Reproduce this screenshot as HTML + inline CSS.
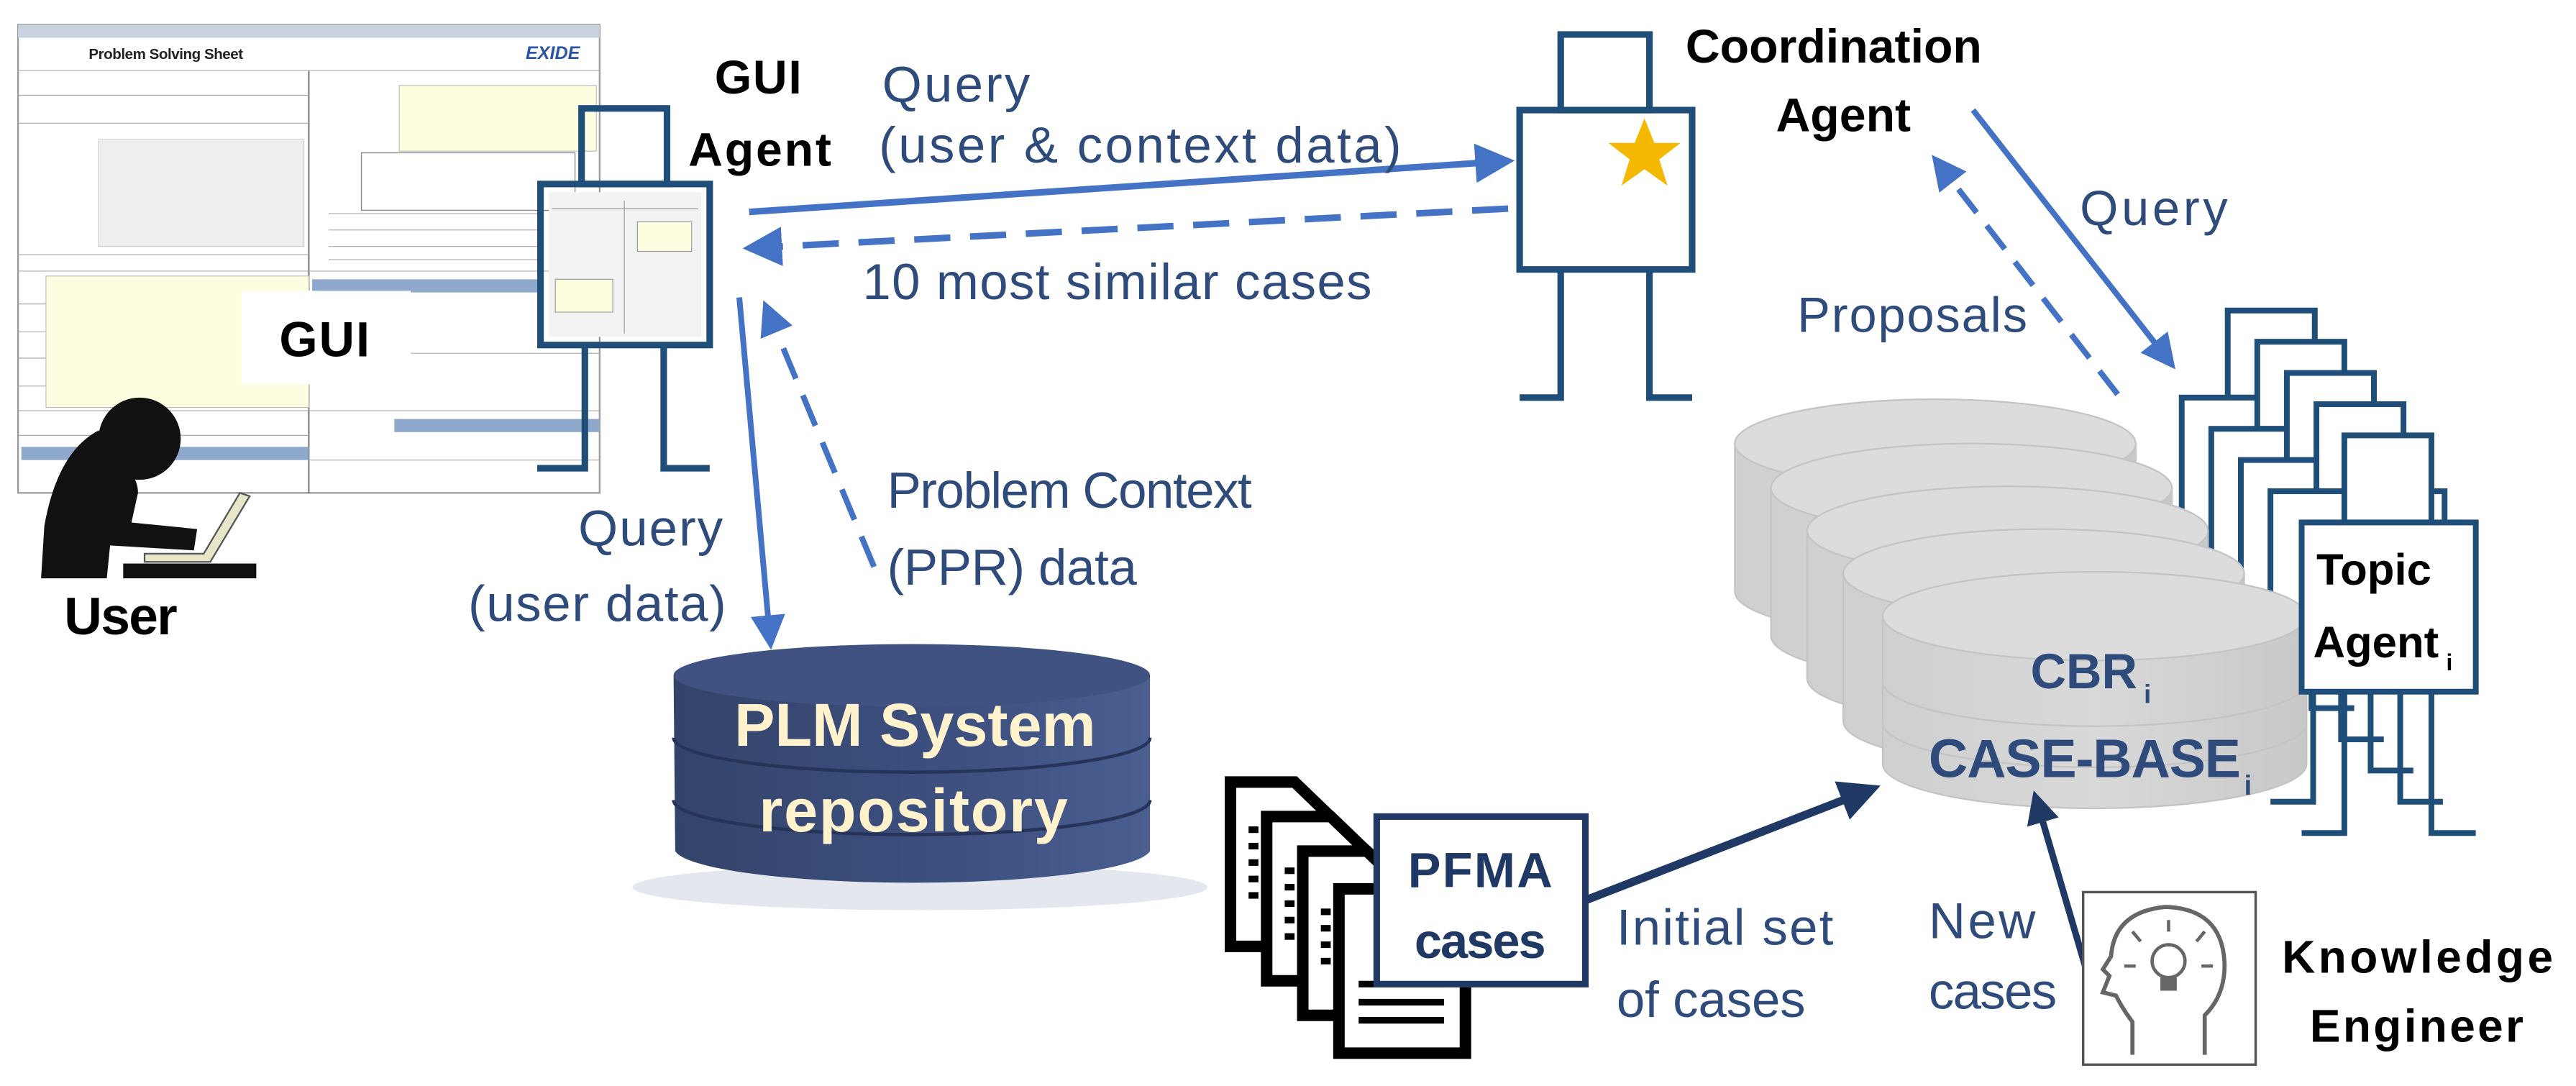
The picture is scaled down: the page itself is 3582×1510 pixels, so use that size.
<!DOCTYPE html>
<html><head><meta charset="utf-8"><style>
html,body{margin:0;padding:0;background:#fff;}
svg{display:block;}
text{font-family:"Liberation Sans","DejaVu Sans",sans-serif;}
</style></head><body>
<svg width="3582" height="1510" viewBox="0 0 1568 661" preserveAspectRatio="none" xmlns="http://www.w3.org/2000/svg">
<defs>
<marker id="ah" markerWidth="6" markerHeight="6" refX="5" refY="3" orient="auto" markerUnits="strokeWidth"><path d="M0,0 L6,3 L0,6 z" fill="#4472c4"/></marker>
<marker id="ahd" markerWidth="5" markerHeight="5" refX="4" refY="2.5" orient="auto" markerUnits="strokeWidth"><path d="M0,0 L5,2.5 L0,5 z" fill="#1f3864"/></marker>
<linearGradient id="plm" x1="0" x2="1"><stop offset="0" stop-color="#33446a"/><stop offset="0.6" stop-color="#3d5080"/><stop offset="1" stop-color="#4a5e90"/></linearGradient>
<linearGradient id="cbr" x1="0" x2="1"><stop offset="0" stop-color="#cfcfcf"/><stop offset="0.5" stop-color="#d9d9d9"/><stop offset="1" stop-color="#c8c8c8"/></linearGradient>
</defs>

<!-- GUI screenshot -->
<g>
<rect x="11" y="15" width="354" height="285" fill="#fff" stroke="#999" stroke-width="1"/>
<rect x="11" y="15" width="354" height="8" fill="#c9d3e0"/>
<text x="54" y="36" font-size="9" font-weight="bold" fill="#222" textLength="94">Problem Solving Sheet</text>
<text x="320" y="36" font-size="11" font-weight="bold" font-style="italic" fill="#2a55a0">EXIDE</text>
<line x1="188" y1="43" x2="188" y2="300" stroke="#666" stroke-width="0.8"/>
<g stroke="#aaa" stroke-width="0.5">
<line x1="11" y1="43" x2="365" y2="43"/><line x1="11" y1="58" x2="188" y2="58"/><line x1="11" y1="75" x2="188" y2="75"/>
<line x1="11" y1="155" x2="188" y2="155"/><line x1="11" y1="165" x2="188" y2="165"/>
<line x1="188" y1="165" x2="365" y2="165"/><line x1="188" y1="215" x2="365" y2="215"/><line x1="188" y1="250" x2="365" y2="250"/><line x1="188" y1="280" x2="365" y2="280"/>
<line x1="11" y1="250" x2="188" y2="250"/><line x1="11" y1="265" x2="188" y2="265"/>
<line x1="11" y1="185" x2="188" y2="185"/><line x1="11" y1="202" x2="188" y2="202"/><line x1="11" y1="218" x2="188" y2="218"/><line x1="11" y1="235" x2="188" y2="235"/>
<line x1="200" y1="130" x2="330" y2="130"/><line x1="200" y1="140" x2="330" y2="140"/><line x1="200" y1="150" x2="330" y2="150"/><line x1="200" y1="158" x2="330" y2="158"/>
</g>
<rect x="28" y="168" width="160" height="80" fill="#fdfde0" stroke="#bbb" stroke-width="0.5"/>
<rect x="243" y="52" width="120" height="40" fill="#fdfde0" stroke="#bbb" stroke-width="0.5"/>
<rect x="190" y="170" width="140" height="8" fill="#8fa9cc"/>
<rect x="240" y="255" width="125" height="8" fill="#8fa9cc"/>
<rect x="13" y="272" width="175" height="8" fill="#8fa9cc"/>
<rect x="60" y="85" width="125" height="65" fill="#eee" stroke="#ccc" stroke-width="0.5"/>
<rect x="220" y="93" width="130" height="35" fill="#fff" stroke="#888" stroke-width="0.6"/>
<rect x="147" y="177" width="103" height="57" fill="#fff"/>
<text x="170" y="217" font-size="30" font-weight="bold" fill="#000" textLength="55">GUI</text>
</g>

<!-- User -->
<g fill="#111">
<circle cx="85" cy="267" r="25"/>
<path d="M60,262 Q35,275 27,320 L25,352 L65,352 L67,332 L118,335 L120,322 L80,318 L84,300 Q84,288 70,280 z"/>
<rect x="75" y="343" width="81" height="9"/>
</g>
<path d="M88,342 L128,342 L152,302 L146,300 L124,337 L88,337 z" fill="#e8e6c8" stroke="#555" stroke-width="1"/>
<text x="39" y="386" font-size="32" font-weight="bold" fill="#000" textLength="69">User</text>

<!-- GUI Agent -->
<g fill="none" stroke="#1f4e79" stroke-width="4">
<rect x="354" y="66" width="52" height="46"/>
<rect x="329" y="112" width="103" height="98"/>
<polyline points="356,210 356,285 327,285"/>
<polyline points="404,210 404,285 432,285"/>
</g>
<rect x="334" y="117" width="93" height="88" fill="#f3f3f3"/>
<g stroke="#999" stroke-width="0.5" fill="none"><line x1="336" y1="127" x2="425" y2="127"/><line x1="380" y1="122" x2="380" y2="203"/><rect x="388" y="135" width="33" height="18" fill="#fdfde0"/><rect x="338" y="170" width="35" height="20" fill="#fdfde0"/></g>
<text x="435" y="57" font-size="29" font-weight="bold" fill="#000" textLength="53">GUI</text>
<text x="419" y="101" font-size="29" font-weight="bold" fill="#000" textLength="87">Agent</text>

<!-- Query / 10 most similar -->
<line x1="456" y1="129" x2="918" y2="98" stroke="#4472c4" stroke-width="4" marker-end="url(#ah)"/>
<line x1="918" y1="127" x2="456" y2="151" stroke="#4472c4" stroke-width="4" stroke-dasharray="22,12" marker-end="url(#ah)"/>
<text x="537" y="62" font-size="31" fill="#2f4b7c" textLength="90">Query</text>
<text x="535" y="99" font-size="31" fill="#2f4b7c" textLength="318">(user &amp; context data)</text>
<text x="525" y="182" font-size="31" fill="#2f4b7c" textLength="310">10 most similar cases</text>

<!-- Coordination Agent -->
<g fill="none" stroke="#1f4e79" stroke-width="4">
<rect x="950" y="21" width="54" height="46"/>
<rect x="925" y="67" width="105" height="97"/>
<polyline points="950,164 950,242 925,242"/>
<polyline points="1004,164 1004,242 1030,242"/>
</g>
<polygon points="1001,72 1007,87 1023,87 1010,97 1015,113 1001,103 987,113 992,97 979,87 995,87" fill="#f5b800"/>
<text x="1026" y="38" font-size="29" font-weight="bold" fill="#000">Coordination</text>
<text x="1081" y="80" font-size="29" font-weight="bold" fill="#000">Agent</text>

<!-- Query / Proposals to topic -->
<line x1="1201" y1="67" x2="1322" y2="222" stroke="#4472c4" stroke-width="3.5" marker-end="url(#ah)"/>
<line x1="1289" y1="240" x2="1178" y2="97" stroke="#4472c4" stroke-width="3.5" stroke-dasharray="18,10" marker-end="url(#ah)"/>
<text x="1266" y="137" font-size="30" fill="#2f4b7c" textLength="90">Query</text>
<text x="1094" y="202" font-size="30" fill="#2f4b7c" textLength="140">Proposals</text>

<!-- Topic agents stack (back 4) -->
<g fill="#fff" stroke="#1f4e79" stroke-width="3.5">
<g><polyline fill="none" points="1354,345 1354,431 1328,431"/><polyline fill="none" points="1407,345 1407,431 1433,431"/><rect x="1356" y="189" width="53" height="53"/><rect x="1328" y="242" width="106" height="103"/></g>
<g><polyline fill="none" points="1372,364 1372,450 1346,450"/><polyline fill="none" points="1425,364 1425,450 1451,450"/><rect x="1374" y="208" width="53" height="53"/><rect x="1346" y="261" width="106" height="103"/></g>
<g><polyline fill="none" points="1390,383 1390,469 1364,469"/><polyline fill="none" points="1443,383 1443,469 1469,469"/><rect x="1392" y="227" width="53" height="53"/><rect x="1364" y="280" width="106" height="103"/></g>
<g><polyline fill="none" points="1408,402 1408,488 1382,488"/><polyline fill="none" points="1461,402 1461,488 1487,488"/><rect x="1410" y="246" width="53" height="53"/><rect x="1382" y="299" width="106" height="103"/></g>
</g>

<!-- CBR cylinders -->
<g stroke="#c4c4c4" stroke-width="1">
<g><path d="M1056,270 L1056,360 A122,27 0 0 0 1300,360 L1300,270 z" fill="url(#cbr)"/><ellipse cx="1178" cy="270" rx="122" ry="27" fill="#dcdcdc"/></g>
<g><path d="M1078,297 L1078,387 A122,27 0 0 0 1322,387 L1322,297 z" fill="url(#cbr)"/><ellipse cx="1200" cy="297" rx="122" ry="27" fill="#dcdcdc"/></g>
<g><path d="M1100,323 L1100,413 A122,27 0 0 0 1344,413 L1344,323 z" fill="url(#cbr)"/><ellipse cx="1222" cy="323" rx="122" ry="27" fill="#dcdcdc"/></g>
<g><path d="M1122,349 L1122,439 A122,27 0 0 0 1366,439 L1366,349 z" fill="url(#cbr)"/><ellipse cx="1244" cy="349" rx="122" ry="27" fill="#dcdcdc"/></g>
<g><path d="M1146,375 L1146,465 A129,27 0 0 0 1404,465 L1404,375 z" fill="url(#cbr)"/><ellipse cx="1275" cy="375" rx="129" ry="27" fill="#dcdcdc"/><path d="M1146,415 A129,27 0 0 0 1404,415" fill="none"/><path d="M1146,440 A129,27 0 0 0 1404,440" fill="none"/></g>
</g>
<text x="1236" y="419" font-size="30" font-weight="bold" fill="#2f4b7c">CBR</text><text x="1305" y="428" font-size="16" font-weight="bold" fill="#2f4b7c">i</text>
<text x="1174" y="473" font-size="33" font-weight="bold" fill="#2f4b7c" textLength="190">CASE-BASE</text><text x="1366" y="484" font-size="17" font-weight="bold" fill="#2f4b7c">i</text>

<!-- front topic agent -->
<g fill="none" stroke="#1f4e79" stroke-width="3.5">
<rect x="1427" y="265" width="53" height="53" fill="#fff"/>
<polyline points="1427,421 1427,507 1401,507"/>
<polyline points="1480,421 1480,507 1507,507"/>
<rect x="1401" y="318" width="106" height="103" fill="#fff"/>
</g>
<text x="1410" y="356" font-size="27" font-weight="bold" fill="#000">Topic</text>
<text x="1408" y="400" font-size="27" font-weight="bold" fill="#000">Agent</text><text x="1489" y="408" font-size="14" font-weight="bold" fill="#000">i</text>

<!-- GUI <-> PLM arrows -->
<line x1="450" y1="181" x2="469" y2="392" stroke="#4472c4" stroke-width="3.5" marker-end="url(#ah)"/>
<line x1="532" y1="345" x2="466" y2="186" stroke="#4472c4" stroke-width="3.5" stroke-dasharray="20,11" marker-end="url(#ah)"/>
<text x="352" y="332" font-size="31" fill="#2f4b7c" textLength="88">Query</text>
<text x="285" y="378" font-size="31" fill="#2f4b7c" textLength="157">(user data)</text>
<text x="540" y="309" font-size="31" fill="#2f4b7c" textLength="222">Problem Context</text>
<text x="540" y="356" font-size="31" fill="#2f4b7c" textLength="152">(PPR) data</text>

<!-- PLM cylinder -->
<ellipse cx="560" cy="540" rx="175" ry="14" fill="#e4e7ee"/>
<path d="M410,411 L411,518 A145,21 0 0 0 700,518 L700,411 z" fill="url(#plm)"/>
<path d="M410,449 A145,21 0 0 0 700,449" fill="none" stroke="#26345a" stroke-width="2"/>
<path d="M410,487 A145,21 0 0 0 700,487" fill="none" stroke="#26345a" stroke-width="2"/>
<ellipse cx="555" cy="411" rx="145" ry="19" fill="#3f5282"/>
<text x="447" y="454" font-size="37" font-weight="bold" fill="#fff2cc" textLength="220">PLM System</text>
<text x="462" y="506" font-size="37" font-weight="bold" fill="#fff2cc" textLength="188">repository</text>

<!-- documents -->
<g fill="#fff" stroke="#000" stroke-width="7">
<path d="M749,476 L788,476 L815,502 L815,576 L749,576 z"/>
<path d="M771,497 L810,497 L837,523 L837,597 L771,597 z"/>
<path d="M793,518 L832,518 L859,544 L859,618 L793,618 z"/>
<path d="M815,541 L870,541 L892,560 L892,641 L815,641 z"/>
</g>
<g stroke="#000" stroke-width="4">
<line x1="760" y1="505" x2="766" y2="505"/><line x1="760" y1="515" x2="766" y2="515"/><line x1="760" y1="525" x2="766" y2="525"/><line x1="760" y1="535" x2="766" y2="535"/><line x1="760" y1="545" x2="766" y2="545"/>
<line x1="782" y1="530" x2="788" y2="530"/><line x1="782" y1="540" x2="788" y2="540"/><line x1="782" y1="550" x2="788" y2="550"/><line x1="782" y1="560" x2="788" y2="560"/><line x1="782" y1="570" x2="788" y2="570"/>
<line x1="804" y1="555" x2="810" y2="555"/><line x1="804" y1="565" x2="810" y2="565"/><line x1="804" y1="575" x2="810" y2="575"/><line x1="804" y1="585" x2="810" y2="585"/>
<line x1="827" y1="599" x2="879" y2="599"/><line x1="827" y1="610" x2="879" y2="610"/><line x1="827" y1="621" x2="879" y2="621"/>
</g>
<rect x="838" y="497" width="127" height="102" fill="#fff" stroke="#1f3864" stroke-width="4"/>
<text x="901" y="540" font-size="30" font-weight="bold" fill="#1f3864" text-anchor="middle" textLength="88">PFMA</text>
<text x="901" y="583" font-size="30" font-weight="bold" fill="#1f3864" text-anchor="middle" textLength="80">cases</text>

<!-- initial set arrow -->
<line x1="965" y1="548" x2="1140" y2="480" stroke="#1f3864" stroke-width="5" marker-end="url(#ahd)"/>
<text x="984" y="575" font-size="31" fill="#2f4b7c" textLength="132">Initial set</text>
<text x="984" y="619" font-size="31" fill="#2f4b7c" textLength="115">of cases</text>

<!-- knowledge engineer -->
<line x1="1271" y1="594" x2="1239" y2="485" stroke="#1f3864" stroke-width="4" marker-end="url(#ahd)"/>
<text x="1174" y="571" font-size="31" fill="#2f4b7c" textLength="65">New</text>
<text x="1174" y="614" font-size="31" fill="#2f4b7c" textLength="78">cases</text>
<rect x="1268" y="543" width="105" height="105" fill="#fff" stroke="#555" stroke-width="1.5"/>
<path d="M1298,642 L1298,622 Q1292,614 1288,606 L1280,604 L1284,594 L1280,590 L1285,582 Q1287,555 1318,552 Q1352,553 1354,585 Q1355,605 1342,618 L1342,642" fill="none" stroke="#666" stroke-width="2.5"/>
<circle cx="1320" cy="585" r="10" fill="none" stroke="#666" stroke-width="2"/>
<rect x="1315" y="595" width="10" height="8" fill="#666"/>
<g stroke="#666" stroke-width="2"><line x1="1303" y1="573" x2="1298" y2="567"/><line x1="1320" y1="567" x2="1320" y2="560"/><line x1="1337" y1="573" x2="1342" y2="567"/><line x1="1300" y1="588" x2="1293" y2="588"/><line x1="1340" y1="588" x2="1347" y2="588"/></g>
<text x="1389" y="592" font-size="28" font-weight="bold" fill="#000" textLength="165">Knowledge</text>
<text x="1406" y="634" font-size="28" font-weight="bold" fill="#000" textLength="130">Engineer</text>
</svg>
</body></html>
